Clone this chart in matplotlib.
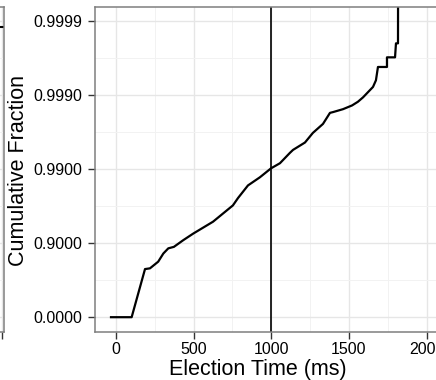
import numpy as np
import matplotlib
matplotlib.use("Agg")
import matplotlib.pyplot as plt
from matplotlib.ticker import FixedLocator, FixedFormatter

plt.rcParams['font.family'] = ['Liberation Sans', 'DejaVu Sans']

# ---- data ----
election_ms = [-32, 101, 187, 219, 272, 305, 337, 373, 433, 498, 625, 753, 786, 850, 927,
               998, 1056, 1120, 1140, 1217, 1268, 1333, 1378, 1397, 1462, 1520, 1558,
               1591, 1623, 1655, 1674, 1687, 1745, 1745, 1797, 1803, 1816, 1822]
cum_fraction = [0.0, 0.0, 0.7761, 0.7812, 0.8222, 0.8620, 0.8825, 0.8878, 0.90880,
                0.92587, 0.94871, 0.96910, 0.97545, 0.98340, 0.98712, 0.99023, 0.99168,
                0.99397, 0.99450, 0.99563, 0.99676, 0.99755, 0.998262, 0.998302,
                0.998451, 0.998620, 0.998770, 0.998928, 0.999088, 0.999224, 0.999369,
                0.999583, 0.999583, 0.999691, 0.999691, 0.999800, 0.999800, 1.0]
timeout_ms = 1000
x_ticks = [0, 500, 1000, 1500, 2000]
y_ticks = [0.0, 0.9, 0.99, 0.999, 0.9999]
y_tick_labels = ['0.0000', '0.9000', '0.9900', '0.9990', '0.9999']

# neighbouring (cropped) panel
prev_ms = [1900, 2020]
prev_frac = [0.99988, 0.99988]


def fwd(y):
    y = np.asarray(y, dtype=float)
    return -np.log10(np.clip(1.0 - y, 1e-12, None))


def inv(t):
    t = np.asarray(t, dtype=float)
    return 1.0 - 10.0 ** (-t)


W, H = 436, 380
fig = plt.figure(figsize=(W / 100, H / 100), dpi=100)

scale = 0.1553  # px per ms
xlim = (-135, 2140)
top_px, bot_px = 7, 332
ylim = (inv(-0.2), inv(4.19))

grid_major = '#e6e6e6'
grid_minor = '#f2f2f2'
border = '#7f7f7f'


def style(ax):
    ax.set_yscale('function', functions=(fwd, inv))
    ax.set_ylim(*ylim)
    ax.yaxis.set_major_locator(FixedLocator(y_ticks))
    ax.yaxis.set_minor_locator(FixedLocator(list(inv([0.5, 1.5, 2.5, 3.5]))))
    ax.grid(True, which='major', color=grid_major, lw=1.0)
    ax.grid(True, which='minor', color=grid_minor, lw=0.7)
    ax.set_axisbelow(True)
    for s in ax.spines.values():
        s.set_color(border)
        s.set_linewidth(1.1)
    ax.tick_params(which='minor', length=0)
    ax.tick_params(which='major', length=5, width=1.0, color='#333333',
                   labelsize=11.5, labelcolor='black')


# previous panel, mostly cropped away
pw = 300
prev_right = 4
pxlim_hi = 2000 + 2 / scale
pxlim_lo = pxlim_hi - pw / scale
axp = fig.add_axes([(prev_right - pw) / W, (H - bot_px) / H, pw / W, (bot_px - top_px) / H])
style(axp)
axp.set_xlim(pxlim_lo, pxlim_hi)
axp.xaxis.set_major_locator(FixedLocator([2000]))
axp.xaxis.set_minor_locator(FixedLocator([1750]))
axp.set_xticklabels([])
axp.set_yticklabels([])
axp.tick_params(axis='y', length=0)
axp.plot(prev_ms, prev_frac, color='black', lw=1.5, solid_capstyle='butt')

# main panel
aw = (xlim[1] - xlim[0]) * scale
ax = fig.add_axes([95 / W, (H - bot_px) / H, aw / W, (bot_px - top_px) / H])
style(ax)
ax.set_xlim(*xlim)
ax.xaxis.set_major_locator(FixedLocator(x_ticks))
ax.xaxis.set_minor_locator(FixedLocator([250, 750, 1250, 1750]))
ax.yaxis.set_major_formatter(FixedFormatter(y_tick_labels))
ax.tick_params(axis='y', pad=4)
ax.tick_params(axis='x', pad=2)

ax.plot(election_ms, cum_fraction, color='black', lw=1.6, solid_joinstyle='round')
ax.axvline(timeout_ms, color='black', lw=1.2)

fig.text(258 / W, 1 - 370 / H, 'Election Time (ms)', ha='center', va='center', fontsize=15.5)
fig.text(18 / W, 1 - 170 / H, 'Cumulative Fraction', ha='center', va='center',
         rotation=90, fontsize=15.5)

fig.savefig('out.png', dpi=100)
